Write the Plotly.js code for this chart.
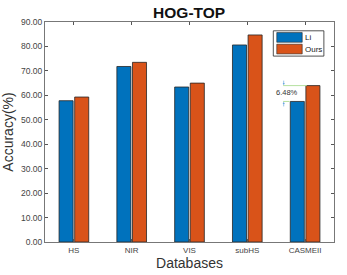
<!DOCTYPE html>
<html><head><meta charset="utf-8">
<script src="https://cdn.plot.ly/plotly-3.0.1.min.js"></script>
<style>html,body{margin:0;padding:0;background:#fff}#c{width:347px;height:275px}</style>
</head><body><div id="c"></div>
<script>
const categories = ["HS", "NIR", "VIS", "subHS", "CASMEII"];
const seriesNames = ["Li", "Ours"];
const liValues = [57.8, 71.8, 63.4, 80.6, 57.5];
const oursValues = [59.3, 73.5, 65.0, 84.7, 63.98];
const diffLabel = "6.48%";
const yTicks = [0, 10, 20, 30, 40, 50, 60, 70, 80, 90];

const colors = ["#0072BD", "#D95319"];
const xIdx = categories.map((c, i) => i);

const traces = [liValues, oursValues].map((vals, k) => ({
  type: "bar", x: xIdx, y: vals, name: seriesNames[k],
  marker: {color: colors[k], line: {color: "#262626", width: 0.8}},
  showlegend: false, hoverinfo: "skip"
}));

const font = "Liberation Sans, Arial, Helvetica, sans-serif";
const lx0 = 0.79, lx1 = 0.965, ly0 = 0.845, ly1 = 0.96;
const shapes = [
  {type: "rect", xref: "paper", yref: "paper", x0: lx0, x1: lx1, y0: ly0, y1: ly1, line: {color: "#262626", width: 0.8}, fillcolor: "#fff"},
  {type: "rect", xref: "paper", yref: "paper", x0: lx0 + 0.012, x1: lx0 + 0.1, y0: 0.908, y1: 0.952, line: {color: "#262626", width: 0.6}, fillcolor: colors[0]},
  {type: "rect", xref: "paper", yref: "paper", x0: lx0 + 0.012, x1: lx0 + 0.1, y0: 0.855, y1: 0.899, line: {color: "#262626", width: 0.6}, fillcolor: colors[1]},
  {type: "line", x0: 3.62, x1: 4.03, y0: oursValues[4], y1: oursValues[4], line: {color: "#b5e0a0", width: 1}},
  {type: "line", x0: 3.62, x1: 3.73, y0: liValues[4], y1: liValues[4], line: {color: "#b5e0a0", width: 1}}
];
const annotations = [
  {xref: "paper", yref: "paper", x: lx0 + 0.103, y: 0.93, text: seriesNames[0], showarrow: false, xanchor: "left", yanchor: "middle", font: {family: font, size: 8, color: "#222"}},
  {xref: "paper", yref: "paper", x: lx0 + 0.103, y: 0.877, text: seriesNames[1], showarrow: false, xanchor: "left", yanchor: "middle", font: {family: font, size: 8, color: "#222"}},
  {x: 3.68, y: (liValues[4] + oursValues[4]) / 2 + 0.4, text: diffLabel, showarrow: false, yanchor: "middle", font: {family: font, size: 7.5, color: "#333"}},
  {x: 3.63, y: oursValues[4] + 0.2, ax: 0, ay: -6, showarrow: true, arrowhead: 2, arrowsize: 0.6, arrowwidth: 0.7, arrowcolor: "#6aa6e0", text: ""},
  {x: 3.63, y: liValues[4] - 0.2, ax: 0, ay: 6, showarrow: true, arrowhead: 2, arrowsize: 0.6, arrowwidth: 0.7, arrowcolor: "#6aa6e0", text: ""}
];

const layout = {
  width: 347, height: 275,
  margin: {l: 45, r: 13, t: 22, b: 33},
  paper_bgcolor: "#fff", plot_bgcolor: "#fff",
  barmode: "group", bargap: 0.46, bargroupgap: 0.1,
  title: {text: "<b>HOG-TOP</b>", x: 0.545, xanchor: "center", y: 0.955, yanchor: "middle", font: {family: font, size: 15.5, color: "#111"}},
  xaxis: {
    range: [-0.5, 4.5], tickvals: xIdx, ticktext: categories,
    ticks: "inside", ticklen: 3, tickcolor: "#555", showline: true, mirror: "ticks", linecolor: "#777", linewidth: 1,
    showgrid: false, zeroline: false,
    tickfont: {family: font, size: 8, color: "#444"},
    title: {text: "Databases", font: {family: font, size: 14, color: "#333"}, standoff: 3}
  },
  yaxis: {
    range: [0, 90], tickvals: yTicks, tickformat: ".2f",
    ticks: "inside", ticklen: 3, tickcolor: "#555", showline: true, mirror: "ticks", linecolor: "#777", linewidth: 1,
    showgrid: false, zeroline: false,
    tickfont: {family: font, size: 8.5, color: "#444"},
    title: {text: "Accuracy(%)", font: {family: font, size: 14, color: "#333"}, standoff: 7}
  },
  shapes: shapes, annotations: annotations
};
Plotly.newPlot("c", traces, layout, {displayModeBar: false, staticPlot: true});
</script></body></html>
